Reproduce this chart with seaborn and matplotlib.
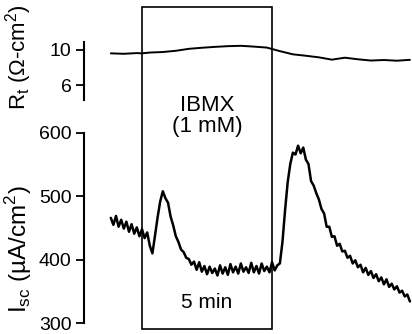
import numpy as np
import pandas as pd
import matplotlib
matplotlib.use("Agg")
import matplotlib.pyplot as plt
import matplotlib.transforms as mtransforms
from matplotlib.patches import Rectangle
import seaborn as sns

sns.set_theme(style="white")
plt.rcParams["font.family"] = ["Liberation Sans", "DejaVu Sans"]
plt.rcParams["mathtext.fontset"] = "custom"
plt.rcParams["mathtext.rm"] = "Liberation Sans"

# recording, time in minutes (IBMX added at t = 0, washed out at t = 5)
sample_step = 0.1
isc_start = -1.2
isc_values = [
    466, 455, 469, 452, 463, 449, 460, 444, 456, 441, 451, 437,
    448, 434, 443, 422, 410, 438, 467, 492, 508, 497, 490, 468,
    454, 437, 428, 416, 412, 403, 401, 392, 397, 384, 396, 381,
    390, 377, 389, 379, 386, 375, 391, 378, 388, 376, 393, 380,
    389, 378, 394, 381, 388, 379, 395, 380, 390, 378, 394, 382,
    389, 380, 396, 383, 391, 394, 428, 478, 522, 551, 569, 566,
    580, 568, 577, 558, 551, 524, 517, 505, 495, 480, 473, 452,
    452, 436, 437, 422, 425, 413, 414, 403, 406, 394, 399, 388,
    392, 380, 387, 376, 382, 371, 377, 366, 372, 361, 369, 357,
    362, 353, 358, 348, 351, 342, 345, 334,
]
isc_time = isc_start + sample_step * np.arange(len(isc_values))

rt_time = [-1.2, -0.7, -0.2, 0.0, 0.3, 0.8, 1.3, 1.8, 2.3, 2.8, 3.3, 3.8,
           4.3, 4.8, 5.0, 5.3, 5.8, 6.3, 6.8, 7.3, 7.8, 8.3, 8.8, 9.3,
           9.8, 10.3]
rt_values = [9.57, 9.52, 9.6, 9.57, 9.66, 9.72, 9.86, 10.08, 10.2, 10.3,
             10.38, 10.42, 10.33, 10.22, 10.06, 9.82, 9.46, 9.3, 9.12,
             8.86, 9.08, 8.9, 8.76, 8.82, 8.74, 8.84]

ibmx_start, ibmx_end = 0, 5

isc_df = pd.DataFrame({"t": isc_time, "isc": isc_values})
rt_df = pd.DataFrame({"t": rt_time, "rt": rt_values})

W, H = 412, 334
fig = plt.figure(figsize=(W / 100, H / 100), dpi=100)

def px_axes(x0, y0, x1, y1):
    return fig.add_axes([x0 / W, 1 - y1 / H, (x1 - x0) / W, (y1 - y0) / H])

ax_rt = px_axes(84, 42, 412, 100)
ax_isc = px_axes(84, 133, 412, 323)

xlim = (-2.23, 10.38)

sns.lineplot(data=rt_df, x="t", y="rt", ax=ax_rt, color="black", lw=1.4)
ax_rt.set_xlim(xlim)
ax_rt.set_ylim(4.31, 10.85)
ax_rt.set_yticks([6, 10])

sns.lineplot(data=isc_df, x="t", y="isc", ax=ax_isc, color="black", lw=1.8)
ax_isc.set_xlim(xlim)
ax_isc.set_ylim(300, 600)
ax_isc.set_yticks([300, 400, 500, 600])

for ax in (ax_rt, ax_isc):
    sns.despine(ax=ax, bottom=True)
    ax.set_xticks([])
    ax.set_xlabel("")
    ax.patch.set_alpha(0)
    ax.spines["left"].set_linewidth(1.5)
    ax.spines["left"].set_color("black")
    ax.tick_params(axis="y", left=True, length=6, width=1.3, pad=3,
                   labelsize=14, colors="black")

ax_rt.set_ylabel("R$_{\\rm t}$ (\u03a9-cm$^2$)", fontsize=16, color="black")
ax_rt.yaxis.set_label_coords(-0.152, 0.74)
ax_isc.set_ylabel("I$_{\\rm sc}$ (\u00b5A/cm$^2$)", fontsize=17.5, color="black")
ax_isc.yaxis.set_label_coords(-0.152, 0.39)

# IBMX box spanning both panels
trans = mtransforms.blended_transform_factory(ax_isc.transData, fig.transFigure)
box = Rectangle((ibmx_start, 1 - 329 / H), ibmx_end - ibmx_start,
                (329 - 7) / H, transform=trans, fill=False,
                edgecolor="black", lw=1.2, clip_on=False)
fig.add_artist(box)

mid = (ibmx_start + ibmx_end) / 2
fig.text(mid, 1 - 116 / H, "IBMX\n(1 mM)", transform=trans, ha="center",
         va="center", fontsize=16, linespacing=1.0, color="black")
fig.text(mid, 1 - 302 / H, "5 min", transform=trans, ha="center",
         va="center", fontsize=15, color="black")

fig.savefig("out.png", dpi=100)
